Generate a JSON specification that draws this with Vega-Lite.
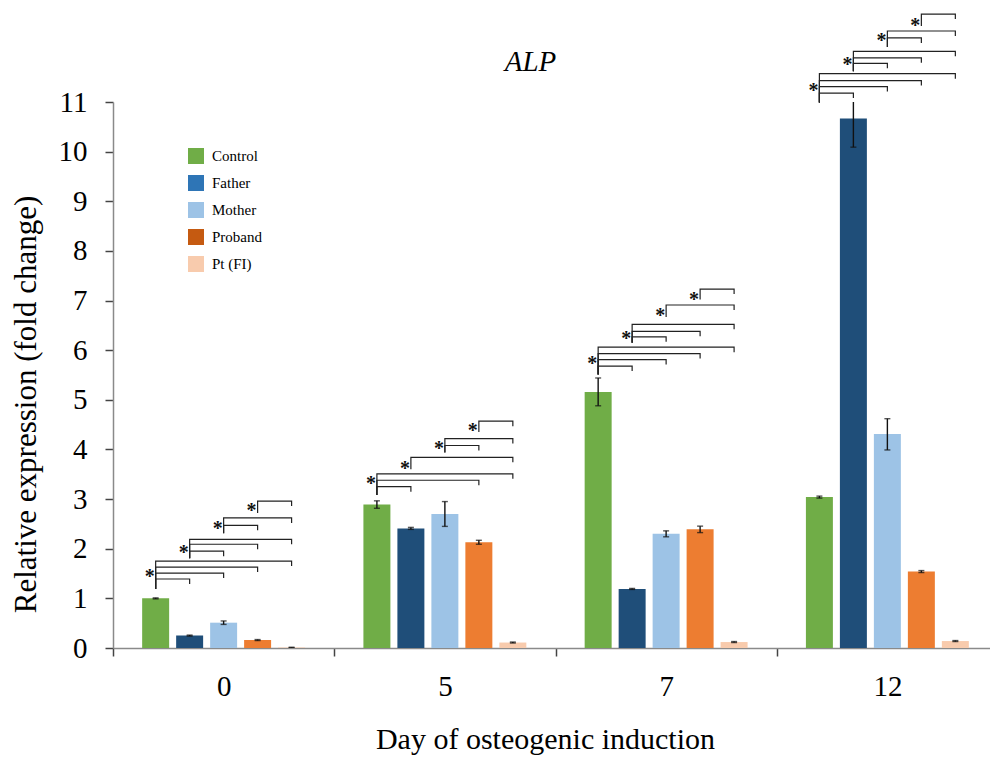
{
  "$schema": "https://vega.github.io/schema/vega-lite/v6.json",
  "width": 877,
  "height": 546,
  "autosize": {"type": "none"},
  "padding": {"left": 113, "top": 102, "right": 0, "bottom": 110},
  "background": "white",
  "config": {"view": {"stroke": null}, "font": "Liberation Serif", "legend": {"labelFont": "Liberation Serif"}},
  "title": {"text": "ALP", "font": "Liberation Serif", "fontStyle": "italic", "fontWeight": "normal", "fontSize": 29, "color": "black", "frame": "group", "anchor": "middle", "dx": -21, "dy": 118, "baseline": "alphabetic", "offset": 30},
  "datasets": {
    "bars": [
      {"day": "0", "series": "Control", "value": 1.00, "lo": 0.99, "hi": 1.01},
      {"day": "0", "series": "Father", "value": 0.25, "lo": 0.24, "hi": 0.26},
      {"day": "0", "series": "Mother", "value": 0.51, "lo": 0.475, "hi": 0.545},
      {"day": "0", "series": "Proband", "value": 0.16, "lo": 0.15, "hi": 0.17},
      {"day": "0", "series": "Pt (FI)", "value": 0.01, "lo": 0.005, "hi": 0.015},
      {"day": "5", "series": "Control", "value": 2.89, "lo": 2.815, "hi": 2.965},
      {"day": "5", "series": "Father", "value": 2.41, "lo": 2.39, "hi": 2.43},
      {"day": "5", "series": "Mother", "value": 2.70, "lo": 2.45, "hi": 2.95},
      {"day": "5", "series": "Proband", "value": 2.13, "lo": 2.09, "hi": 2.17},
      {"day": "5", "series": "Pt (FI)", "value": 0.11, "lo": 0.10, "hi": 0.12},
      {"day": "7", "series": "Control", "value": 5.16, "lo": 4.88, "hi": 5.44},
      {"day": "7", "series": "Father", "value": 1.19, "lo": 1.18, "hi": 1.20},
      {"day": "7", "series": "Mother", "value": 2.30, "lo": 2.24, "hi": 2.36},
      {"day": "7", "series": "Proband", "value": 2.39, "lo": 2.325, "hi": 2.455},
      {"day": "7", "series": "Pt (FI)", "value": 0.12, "lo": 0.11, "hi": 0.13},
      {"day": "12", "series": "Control", "value": 3.04, "lo": 3.02, "hi": 3.06},
      {"day": "12", "series": "Father", "value": 10.67, "lo": 10.09, "hi": 11.25},
      {"day": "12", "series": "Mother", "value": 4.31, "lo": 3.99, "hi": 4.62},
      {"day": "12", "series": "Proband", "value": 1.54, "lo": 1.52, "hi": 1.56},
      {"day": "12", "series": "Pt (FI)", "value": 0.14, "lo": 0.13, "hi": 0.15}
    ],
    "brackets": [
      {"day": "0", "series": "Control", "y": 1.19, "id": "0CF", "ord": 1},
      {"day": "0", "series": "Control", "y": 1.39, "id": "0CF", "ord": 2},
      {"day": "0", "series": "Father", "y": 1.39, "id": "0CF", "ord": 3},
      {"day": "0", "series": "Father", "y": 1.29, "id": "0CF", "ord": 4},
      {"day": "0", "series": "Control", "y": 1.19, "id": "0CM", "ord": 1},
      {"day": "0", "series": "Control", "y": 1.51, "id": "0CM", "ord": 2},
      {"day": "0", "series": "Mother", "y": 1.51, "id": "0CM", "ord": 3},
      {"day": "0", "series": "Mother", "y": 1.41, "id": "0CM", "ord": 4},
      {"day": "0", "series": "Control", "y": 1.19, "id": "0CP", "ord": 1},
      {"day": "0", "series": "Control", "y": 1.63, "id": "0CP", "ord": 2},
      {"day": "0", "series": "Proband", "y": 1.63, "id": "0CP", "ord": 3},
      {"day": "0", "series": "Proband", "y": 1.53, "id": "0CP", "ord": 4},
      {"day": "0", "series": "Control", "y": 1.19, "id": "0CT", "ord": 1},
      {"day": "0", "series": "Control", "y": 1.75, "id": "0CT", "ord": 2},
      {"day": "0", "series": "Pt (FI)", "y": 1.75, "id": "0CT", "ord": 3},
      {"day": "0", "series": "Pt (FI)", "y": 1.65, "id": "0CT", "ord": 4},
      {"day": "0", "series": "Father", "y": 1.81, "id": "0FM", "ord": 1},
      {"day": "0", "series": "Father", "y": 1.95, "id": "0FM", "ord": 2},
      {"day": "0", "series": "Mother", "y": 1.95, "id": "0FM", "ord": 3},
      {"day": "0", "series": "Mother", "y": 1.85, "id": "0FM", "ord": 4},
      {"day": "0", "series": "Father", "y": 1.81, "id": "0FP", "ord": 1},
      {"day": "0", "series": "Father", "y": 2.09, "id": "0FP", "ord": 2},
      {"day": "0", "series": "Proband", "y": 2.09, "id": "0FP", "ord": 3},
      {"day": "0", "series": "Proband", "y": 1.99, "id": "0FP", "ord": 4},
      {"day": "0", "series": "Father", "y": 1.81, "id": "0FT", "ord": 1},
      {"day": "0", "series": "Father", "y": 2.19, "id": "0FT", "ord": 2},
      {"day": "0", "series": "Pt (FI)", "y": 2.19, "id": "0FT", "ord": 3},
      {"day": "0", "series": "Pt (FI)", "y": 2.09, "id": "0FT", "ord": 4},
      {"day": "0", "series": "Mother", "y": 2.31, "id": "0MP", "ord": 1},
      {"day": "0", "series": "Mother", "y": 2.47, "id": "0MP", "ord": 2},
      {"day": "0", "series": "Proband", "y": 2.47, "id": "0MP", "ord": 3},
      {"day": "0", "series": "Proband", "y": 2.37, "id": "0MP", "ord": 4},
      {"day": "0", "series": "Mother", "y": 2.31, "id": "0MT", "ord": 1},
      {"day": "0", "series": "Mother", "y": 2.62, "id": "0MT", "ord": 2},
      {"day": "0", "series": "Pt (FI)", "y": 2.62, "id": "0MT", "ord": 3},
      {"day": "0", "series": "Pt (FI)", "y": 2.52, "id": "0MT", "ord": 4},
      {"day": "0", "series": "Proband", "y": 2.72, "id": "0PT", "ord": 1},
      {"day": "0", "series": "Proband", "y": 2.96, "id": "0PT", "ord": 2},
      {"day": "0", "series": "Pt (FI)", "y": 2.96, "id": "0PT", "ord": 3},
      {"day": "0", "series": "Pt (FI)", "y": 2.86, "id": "0PT", "ord": 4},

      {"day": "5", "series": "Control", "y": 3.08, "id": "5CF", "ord": 1},
      {"day": "5", "series": "Control", "y": 3.25, "id": "5CF", "ord": 2},
      {"day": "5", "series": "Father", "y": 3.25, "id": "5CF", "ord": 3},
      {"day": "5", "series": "Father", "y": 3.15, "id": "5CF", "ord": 4},
      {"day": "5", "series": "Control", "y": 3.08, "id": "5CP", "ord": 1},
      {"day": "5", "series": "Control", "y": 3.38, "id": "5CP", "ord": 2},
      {"day": "5", "series": "Proband", "y": 3.38, "id": "5CP", "ord": 3},
      {"day": "5", "series": "Proband", "y": 3.28, "id": "5CP", "ord": 4},
      {"day": "5", "series": "Control", "y": 3.08, "id": "5CT", "ord": 1},
      {"day": "5", "series": "Control", "y": 3.51, "id": "5CT", "ord": 2},
      {"day": "5", "series": "Pt (FI)", "y": 3.51, "id": "5CT", "ord": 3},
      {"day": "5", "series": "Pt (FI)", "y": 3.41, "id": "5CT", "ord": 4},
      {"day": "5", "series": "Father", "y": 3.60, "id": "5FT", "ord": 1},
      {"day": "5", "series": "Father", "y": 3.84, "id": "5FT", "ord": 2},
      {"day": "5", "series": "Pt (FI)", "y": 3.84, "id": "5FT", "ord": 3},
      {"day": "5", "series": "Pt (FI)", "y": 3.74, "id": "5FT", "ord": 4},
      {"day": "5", "series": "Mother", "y": 3.94, "id": "5MP", "ord": 1},
      {"day": "5", "series": "Mother", "y": 4.08, "id": "5MP", "ord": 2},
      {"day": "5", "series": "Proband", "y": 4.08, "id": "5MP", "ord": 3},
      {"day": "5", "series": "Proband", "y": 3.98, "id": "5MP", "ord": 4},
      {"day": "5", "series": "Mother", "y": 3.94, "id": "5MT", "ord": 1},
      {"day": "5", "series": "Mother", "y": 4.22, "id": "5MT", "ord": 2},
      {"day": "5", "series": "Pt (FI)", "y": 4.22, "id": "5MT", "ord": 3},
      {"day": "5", "series": "Pt (FI)", "y": 4.12, "id": "5MT", "ord": 4},
      {"day": "5", "series": "Proband", "y": 4.35, "id": "5PT", "ord": 1},
      {"day": "5", "series": "Proband", "y": 4.57, "id": "5PT", "ord": 2},
      {"day": "5", "series": "Pt (FI)", "y": 4.57, "id": "5PT", "ord": 3},
      {"day": "5", "series": "Pt (FI)", "y": 4.47, "id": "5PT", "ord": 4},

      {"day": "7", "series": "Control", "y": 5.51, "id": "7CF", "ord": 1},
      {"day": "7", "series": "Control", "y": 5.68, "id": "7CF", "ord": 2},
      {"day": "7", "series": "Father", "y": 5.68, "id": "7CF", "ord": 3},
      {"day": "7", "series": "Father", "y": 5.58, "id": "7CF", "ord": 4},
      {"day": "7", "series": "Control", "y": 5.51, "id": "7CM", "ord": 1},
      {"day": "7", "series": "Control", "y": 5.81, "id": "7CM", "ord": 2},
      {"day": "7", "series": "Mother", "y": 5.81, "id": "7CM", "ord": 3},
      {"day": "7", "series": "Mother", "y": 5.71, "id": "7CM", "ord": 4},
      {"day": "7", "series": "Control", "y": 5.51, "id": "7CP", "ord": 1},
      {"day": "7", "series": "Control", "y": 5.93, "id": "7CP", "ord": 2},
      {"day": "7", "series": "Proband", "y": 5.93, "id": "7CP", "ord": 3},
      {"day": "7", "series": "Proband", "y": 5.83, "id": "7CP", "ord": 4},
      {"day": "7", "series": "Control", "y": 5.51, "id": "7CT", "ord": 1},
      {"day": "7", "series": "Control", "y": 6.06, "id": "7CT", "ord": 2},
      {"day": "7", "series": "Pt (FI)", "y": 6.06, "id": "7CT", "ord": 3},
      {"day": "7", "series": "Pt (FI)", "y": 5.96, "id": "7CT", "ord": 4},
      {"day": "7", "series": "Father", "y": 6.15, "id": "7FM", "ord": 1},
      {"day": "7", "series": "Father", "y": 6.27, "id": "7FM", "ord": 2},
      {"day": "7", "series": "Mother", "y": 6.27, "id": "7FM", "ord": 3},
      {"day": "7", "series": "Mother", "y": 6.17, "id": "7FM", "ord": 4},
      {"day": "7", "series": "Father", "y": 6.15, "id": "7FP", "ord": 1},
      {"day": "7", "series": "Father", "y": 6.38, "id": "7FP", "ord": 2},
      {"day": "7", "series": "Proband", "y": 6.38, "id": "7FP", "ord": 3},
      {"day": "7", "series": "Proband", "y": 6.28, "id": "7FP", "ord": 4},
      {"day": "7", "series": "Father", "y": 6.15, "id": "7FT", "ord": 1},
      {"day": "7", "series": "Father", "y": 6.52, "id": "7FT", "ord": 2},
      {"day": "7", "series": "Pt (FI)", "y": 6.52, "id": "7FT", "ord": 3},
      {"day": "7", "series": "Pt (FI)", "y": 6.42, "id": "7FT", "ord": 4},
      {"day": "7", "series": "Mother", "y": 6.67, "id": "7MT", "ord": 1},
      {"day": "7", "series": "Mother", "y": 6.91, "id": "7MT", "ord": 2},
      {"day": "7", "series": "Pt (FI)", "y": 6.91, "id": "7MT", "ord": 3},
      {"day": "7", "series": "Pt (FI)", "y": 6.81, "id": "7MT", "ord": 4},
      {"day": "7", "series": "Proband", "y": 7.02, "id": "7PT", "ord": 1},
      {"day": "7", "series": "Proband", "y": 7.23, "id": "7PT", "ord": 2},
      {"day": "7", "series": "Pt (FI)", "y": 7.23, "id": "7PT", "ord": 3},
      {"day": "7", "series": "Pt (FI)", "y": 7.13, "id": "7PT", "ord": 4},

      {"day": "12", "series": "Control", "y": 10.99, "id": "12CF", "ord": 1},
      {"day": "12", "series": "Control", "y": 11.18, "id": "12CF", "ord": 2},
      {"day": "12", "series": "Father", "y": 11.18, "id": "12CF", "ord": 3},
      {"day": "12", "series": "Father", "y": 11.08, "id": "12CF", "ord": 4},
      {"day": "12", "series": "Control", "y": 10.99, "id": "12CM", "ord": 1},
      {"day": "12", "series": "Control", "y": 11.31, "id": "12CM", "ord": 2},
      {"day": "12", "series": "Mother", "y": 11.31, "id": "12CM", "ord": 3},
      {"day": "12", "series": "Mother", "y": 11.21, "id": "12CM", "ord": 4},
      {"day": "12", "series": "Control", "y": 10.99, "id": "12CP", "ord": 1},
      {"day": "12", "series": "Control", "y": 11.43, "id": "12CP", "ord": 2},
      {"day": "12", "series": "Proband", "y": 11.43, "id": "12CP", "ord": 3},
      {"day": "12", "series": "Proband", "y": 11.33, "id": "12CP", "ord": 4},
      {"day": "12", "series": "Control", "y": 10.99, "id": "12CT", "ord": 1},
      {"day": "12", "series": "Control", "y": 11.57, "id": "12CT", "ord": 2},
      {"day": "12", "series": "Pt (FI)", "y": 11.57, "id": "12CT", "ord": 3},
      {"day": "12", "series": "Pt (FI)", "y": 11.47, "id": "12CT", "ord": 4},
      {"day": "12", "series": "Father", "y": 11.62, "id": "12FM", "ord": 1},
      {"day": "12", "series": "Father", "y": 11.78, "id": "12FM", "ord": 2},
      {"day": "12", "series": "Mother", "y": 11.78, "id": "12FM", "ord": 3},
      {"day": "12", "series": "Mother", "y": 11.68, "id": "12FM", "ord": 4},
      {"day": "12", "series": "Father", "y": 11.62, "id": "12FP", "ord": 1},
      {"day": "12", "series": "Father", "y": 11.89, "id": "12FP", "ord": 2},
      {"day": "12", "series": "Proband", "y": 11.89, "id": "12FP", "ord": 3},
      {"day": "12", "series": "Proband", "y": 11.79, "id": "12FP", "ord": 4},
      {"day": "12", "series": "Father", "y": 11.62, "id": "12FT", "ord": 1},
      {"day": "12", "series": "Father", "y": 12.02, "id": "12FT", "ord": 2},
      {"day": "12", "series": "Pt (FI)", "y": 12.02, "id": "12FT", "ord": 3},
      {"day": "12", "series": "Pt (FI)", "y": 11.92, "id": "12FT", "ord": 4},
      {"day": "12", "series": "Mother", "y": 12.11, "id": "12MP", "ord": 1},
      {"day": "12", "series": "Mother", "y": 12.29, "id": "12MP", "ord": 2},
      {"day": "12", "series": "Proband", "y": 12.29, "id": "12MP", "ord": 3},
      {"day": "12", "series": "Proband", "y": 12.19, "id": "12MP", "ord": 4},
      {"day": "12", "series": "Mother", "y": 12.11, "id": "12MT", "ord": 1},
      {"day": "12", "series": "Mother", "y": 12.43, "id": "12MT", "ord": 2},
      {"day": "12", "series": "Pt (FI)", "y": 12.43, "id": "12MT", "ord": 3},
      {"day": "12", "series": "Pt (FI)", "y": 12.33, "id": "12MT", "ord": 4},
      {"day": "12", "series": "Proband", "y": 12.53, "id": "12PT", "ord": 1},
      {"day": "12", "series": "Proband", "y": 12.77, "id": "12PT", "ord": 2},
      {"day": "12", "series": "Pt (FI)", "y": 12.77, "id": "12PT", "ord": 3},
      {"day": "12", "series": "Pt (FI)", "y": 12.67, "id": "12PT", "ord": 4}
    ],
    "stars": [
      {"day": "0", "series": "Control", "y": 1.51},
      {"day": "0", "series": "Father", "y": 1.99},
      {"day": "0", "series": "Mother", "y": 2.47},
      {"day": "0", "series": "Proband", "y": 2.84},
      {"day": "5", "series": "Control", "y": 3.38},
      {"day": "5", "series": "Father", "y": 3.68},
      {"day": "5", "series": "Mother", "y": 4.08},
      {"day": "5", "series": "Proband", "y": 4.45},
      {"day": "7", "series": "Control", "y": 5.81},
      {"day": "7", "series": "Father", "y": 6.31},
      {"day": "7", "series": "Mother", "y": 6.76},
      {"day": "7", "series": "Proband", "y": 7.10},
      {"day": "12", "series": "Control", "y": 11.31},
      {"day": "12", "series": "Father", "y": 11.83},
      {"day": "12", "series": "Mother", "y": 12.30},
      {"day": "12", "series": "Proband", "y": 12.62}
    ]
  },
  "layer": [
    {
      "data": {"name": "bars"},
      "mark": {"type": "bar"},
      "encoding": {
        "x": {"field": "day", "type": "ordinal", "sort": ["0", "5", "7", "12"],
          "scale": {"range": [0, 885], "paddingInner": 0, "paddingOuter": 0},
          "axis": {"title": "Day of osteogenic induction", "titleFont": "Liberation Serif", "titleFontSize": 30, "titleFontWeight": "normal", "titleColor": "black", "titleX": 432, "titleY": 100, "titleBaseline": "alphabetic", "titleAlign": "center",
            "labelFont": "Liberation Serif", "labelFontSize": 29, "labelColor": "black", "labelAngle": 0, "labelBaseline": "alphabetic", "labelPadding": 39,
            "tickBand": "extent", "tickSize": 8, "tickColor": "#444444", "tickWidth": 1.5, "domainColor": "#8a8a8a", "domainWidth": 1.5}},
        "xOffset": {"field": "series", "type": "nominal", "sort": ["Control", "Father", "Mother", "Proband", "Pt (FI)"], "scale": {"paddingInner": 0.206, "paddingOuter": 0.858}},
        "y": {"field": "value", "type": "quantitative", "scale": {"domain": [0, 11], "nice": false},
          "axis": {"title": "Relative expression (fold change)", "titleFont": "Liberation Serif", "titleFontSize": 31, "titleFontWeight": "normal", "titleColor": "black", "titleX": -87, "titleY": 302, "titleAlign": "center", "titleBaseline": "middle",
            "values": [0, 1, 2, 3, 4, 5, 6, 7, 8, 9, 10, 11], "labelFont": "Liberation Serif", "labelFontSize": 29, "labelColor": "black", "labelPadding": 18,
            "tickSize": 8, "tickColor": "#444444", "tickWidth": 1.5, "domainColor": "#8a8a8a", "domainWidth": 1.5, "grid": false}},
        "color": {"field": "series", "type": "nominal", "sort": ["Control", "Father", "Mother", "Proband", "Pt (FI)"],
          "scale": {"range": ["#70AD47", "#1F4E79", "#9DC3E6", "#ED7D31", "#F8CBAD"]}, "legend": null}
      }
    },
    {
      "data": {"name": "bars"},
      "mark": {"type": "rule", "color": "#111111", "strokeWidth": 1.4, "clip": true},
      "encoding": {
        "x": {"field": "day", "type": "ordinal", "sort": ["0", "5", "7", "12"]},
        "xOffset": {"field": "series", "type": "nominal", "sort": ["Control", "Father", "Mother", "Proband", "Pt (FI)"]},
        "y": {"field": "lo", "type": "quantitative"},
        "y2": {"field": "hi"}
      }
    },
    {
      "data": {"name": "bars"},
      "mark": {"type": "tick", "orient": "horizontal", "color": "#111111", "size": 6, "thickness": 1.4, "clip": true},
      "encoding": {
        "x": {"field": "day", "type": "ordinal", "sort": ["0", "5", "7", "12"]},
        "xOffset": {"field": "series", "type": "nominal", "sort": ["Control", "Father", "Mother", "Proband", "Pt (FI)"]},
        "y": {"field": "lo", "type": "quantitative"}
      }
    },
    {
      "data": {"name": "bars"},
      "mark": {"type": "tick", "orient": "horizontal", "color": "#111111", "size": 6, "thickness": 1.4, "clip": true},
      "encoding": {
        "x": {"field": "day", "type": "ordinal", "sort": ["0", "5", "7", "12"]},
        "xOffset": {"field": "series", "type": "nominal", "sort": ["Control", "Father", "Mother", "Proband", "Pt (FI)"]},
        "y": {"field": "hi", "type": "quantitative"}
      }
    },
    {
      "data": {"name": "brackets"},
      "mark": {"type": "line", "stroke": "#222222", "strokeWidth": 1.2},
      "encoding": {
        "x": {"field": "day", "type": "ordinal", "sort": ["0", "5", "7", "12"]},
        "xOffset": {"field": "series", "type": "nominal", "sort": ["Control", "Father", "Mother", "Proband", "Pt (FI)"]},
        "y": {"field": "y", "type": "quantitative"},
        "detail": {"field": "id", "type": "nominal"},
        "order": {"field": "ord", "type": "quantitative"}
      }
    },
    {
      "data": {"name": "stars"},
      "mark": {"type": "text", "text": "*", "font": "Liberation Serif", "fontSize": 20, "fontWeight": "bold", "color": "#111111", "dx": -6, "dy": 10, "baseline": "alphabetic", "align": "center"},
      "encoding": {
        "x": {"field": "day", "type": "ordinal", "sort": ["0", "5", "7", "12"]},
        "xOffset": {"field": "series", "type": "nominal", "sort": ["Control", "Father", "Mother", "Proband", "Pt (FI)"]},
        "y": {"field": "y", "type": "quantitative"}
      }
    },
    {
      "data": {"name": "bars"},
      "mark": {"type": "point", "filled": true, "opacity": 0},
      "encoding": {
        "x": {"field": "day", "type": "ordinal", "sort": ["0", "5", "7", "12"]},
        "xOffset": {"field": "series", "type": "nominal", "sort": ["Control", "Father", "Mother", "Proband", "Pt (FI)"]},
        "y": {"field": "value", "type": "quantitative"},
        "color": {"field": "series", "type": "nominal", "sort": ["Control", "Father", "Mother", "Proband", "Pt (FI)"],
          "scale": {"range": ["#70AD47", "#2E75B6", "#9DC3E6", "#C55A11", "#F8CBAD"]},
          "legend": {"orient": "none", "legendX": 75, "legendY": 46, "title": null, "symbolType": "square", "symbolSize": 256, "symbolOpacity": 1, "symbolStrokeWidth": 0,
            "labelFont": "Liberation Serif", "labelFontSize": 15, "labelColor": "black", "labelOffset": 8, "rowPadding": 11, "padding": 0}}
      }
    }
  ],
  "resolve": {"scale": {"color": "independent"}}
}
